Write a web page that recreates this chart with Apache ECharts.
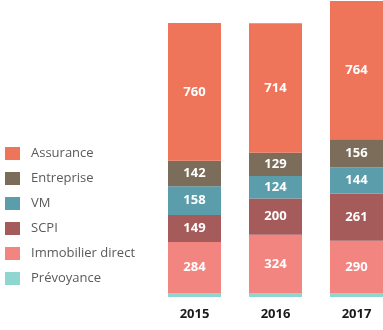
<!DOCTYPE html>
<html><head><meta charset="utf-8">
<script src="https://cdn.jsdelivr.net/npm/echarts@6/dist/echarts.min.js"></script>
<style>html,body{margin:0;padding:0;background:#fff;overflow:hidden}#c{width:383px;height:330px}</style>
</head><body><div id="c"></div>
<script>
const years = ['2015', '2016', '2017'];
const prevoyance = [20, 20, 20];
const immobilierDirect = [284, 324, 290];
const scpi = [149, 200, 261];
const vm = [158, 124, 144];
const entreprise = [142, 129, 156];
const assurance = [760, 714, 764];
const legendOrder = ['Assurance', 'Entreprise', 'VM', 'SCPI', 'Immobilier direct', 'Prévoyance'];

const defs = [
  {name: 'Prévoyance', data: prevoyance, color: '#8fd6d0', label: false},
  {name: 'Immobilier direct', data: immobilierDirect, color: '#f38581', label: true},
  {name: 'SCPI', data: scpi, color: '#a65b5b', label: true},
  {name: 'VM', data: vm, color: '#5b9dab', label: true},
  {name: 'Entreprise', data: entreprise, color: '#7c6c5a', label: true},
  {name: 'Assurance', data: assurance, color: '#ee7559', label: true}
];

const chart = echarts.init(document.getElementById('c'));
chart.setOption({
  animation: false,
  grid: {left: 154, width: 243, top: 0, bottom: 33, outerBoundsMode: 'none', containLabel: false},
  legend: {
    data: legendOrder, orient: 'vertical', left: 0, top: 142,
    itemWidth: 15, itemHeight: 13, itemGap: 12, icon: 'rect',
    textStyle: {fontFamily: 'Open Sans', fontSize: 13, color: '#5a5a5a', padding: [0, 0, 0, 6]}
  },
  xAxis: {
    type: 'category', data: years,
    axisLine: {show: false}, axisTick: {show: false},
    axisLabel: {fontFamily: 'Open Sans', fontWeight: 'bold', fontSize: 13, color: '#1a1a1a', margin: 11}
  },
  yAxis: {type: 'value', min: 0, max: 1640, show: false, splitLine: {show: false}},
  series: defs.map(d => ({
    name: d.name, type: 'bar', stack: 'total', data: d.data, barWidth: 53,
    itemStyle: {color: d.color},
    label: {show: d.label, position: 'inside', color: '#fff', fontFamily: 'Open Sans', fontWeight: 'bold', fontSize: 13}
  }))
});
</script></body></html>
